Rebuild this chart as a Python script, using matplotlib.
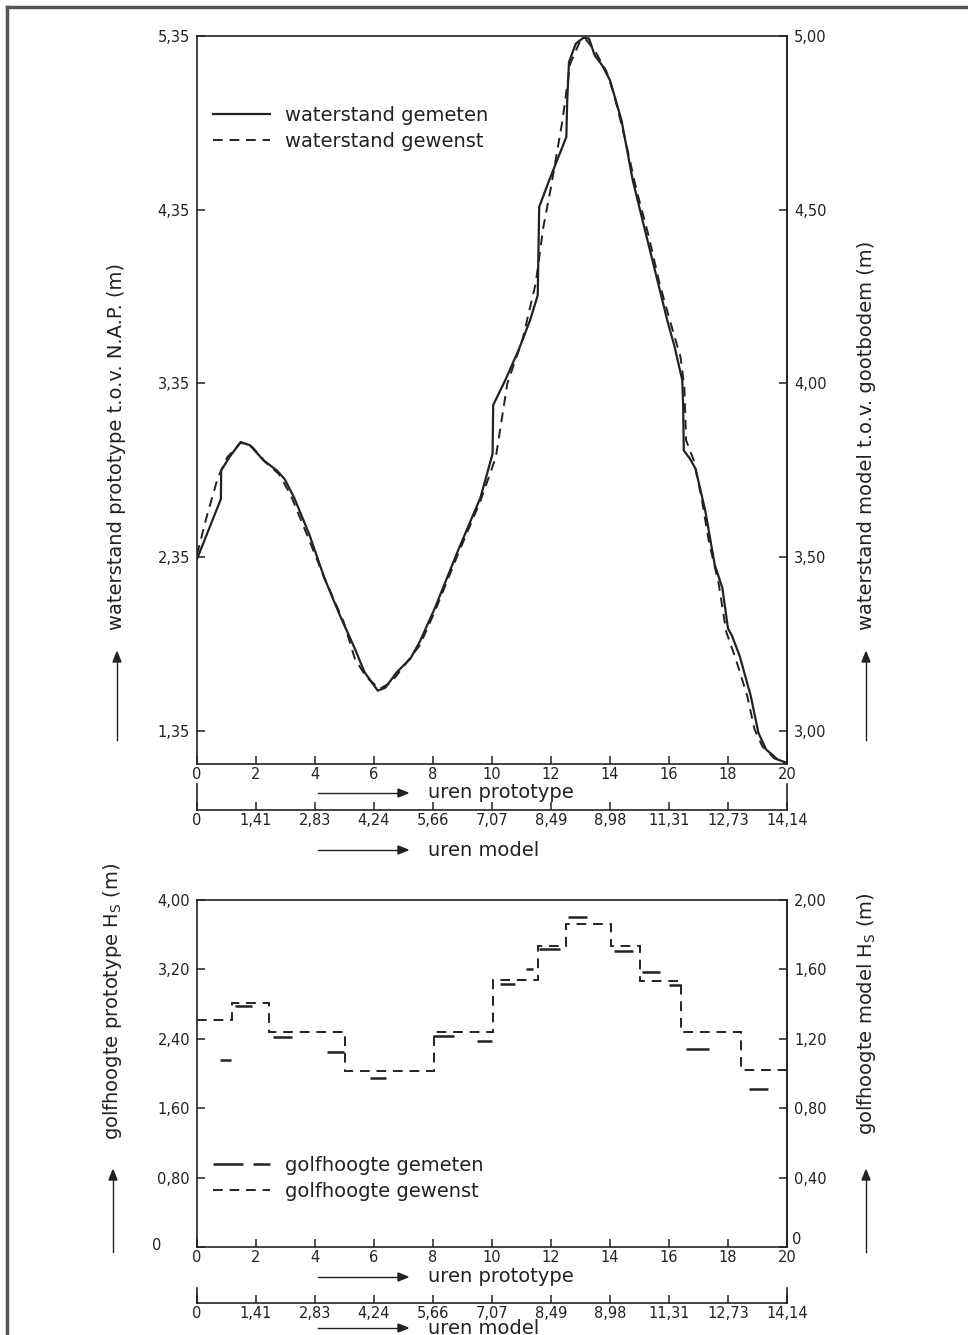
import matplotlib
matplotlib.use("Agg")
import matplotlib.pyplot as plt
from matplotlib.lines import Line2D

# waterstand (prototype, m t.o.v. N.A.P.) tegen uren prototype
gemeten_uur = [0, 0.81, 0.82, 1.1, 1.48, 1.8, 2.26, 2.71, 2.97, 3.29, 3.81, 4.32, 4.84,
               5.35, 5.68, 6.13, 6.39, 6.77, 7.23, 7.55, 8.06, 8.84, 9.61, 10.02, 10.04,
               10.45, 10.9, 11.29, 11.55, 11.6, 11.94, 12.52, 12.55, 12.61, 12.84, 13.1,
               13.29, 13.48, 13.74, 14.0, 14.39, 14.77, 15.16, 15.55, 15.94, 16.19, 16.45,
               16.48, 16.5, 16.71, 16.9, 17.23, 17.55, 17.81, 18.0, 18.13, 18.39, 18.77,
               19.03, 19.29, 19.68, 20.0]
gemeten_stand = [2.34, 2.685, 2.85, 2.926, 3.013, 2.994, 2.907, 2.849, 2.80, 2.694, 2.48,
                 2.23, 2.017, 1.824, 1.688, 1.582, 1.60, 1.688, 1.766, 1.863, 2.056, 2.385,
                 2.694, 2.946, 3.226, 3.369, 3.542, 3.714, 3.858, 4.366, 4.52, 4.769, 4.98,
                 5.20, 5.306, 5.34, 5.335, 5.239, 5.18, 5.095, 4.865, 4.52, 4.25, 3.983,
                 3.714, 3.561, 3.369, 3.22, 2.965, 2.917, 2.859, 2.617, 2.307, 2.172, 1.94,
                 1.90, 1.785, 1.553, 1.34, 1.244, 1.186, 1.166]

gewenst_uur = [0, 0.32, 0.71, 1.03, 1.48, 1.87, 2.32, 2.77, 3.16, 3.68, 4.32, 4.97, 5.35,
               5.74, 6.19, 6.58, 7.03, 7.55, 8.06, 8.84, 9.61, 10.13, 10.52, 11.03, 11.48,
               11.74, 12.0, 12.39, 12.65, 12.97, 13.16, 13.48, 13.87, 14.13, 14.52, 14.9,
               15.29, 15.68, 16.06, 16.39, 16.52, 16.58, 16.84, 17.1, 17.35, 17.68, 17.94,
               18.26, 18.65, 18.9, 19.16, 19.55, 20.0]
gewenst_stand = [2.365, 2.578, 2.81, 2.926, 3.01, 2.985, 2.897, 2.83, 2.714, 2.50, 2.23,
                 1.979, 1.766, 1.66, 1.592, 1.63, 1.727, 1.843, 2.037, 2.365, 2.675, 2.926,
                 3.35, 3.6, 3.925, 4.25, 4.48, 4.865, 5.19, 5.315, 5.335, 5.267, 5.15,
                 5.018, 4.75, 4.462, 4.213, 3.925, 3.695, 3.503, 3.33, 3.023, 2.907, 2.694,
                 2.443, 2.201, 1.921, 1.766, 1.553, 1.36, 1.263, 1.195, 1.157]

# golfhoogte Hs (prototype, m)
gewenst_grenzen = [0, 1.2, 2.45, 5.0, 8.05, 10.05, 11.55, 12.5, 14.05, 15.0, 16.4, 18.45, 20]
gewenst_hs = [2.62, 2.81, 2.475, 2.034, 2.483, 3.08, 3.47, 3.72, 3.47, 3.07, 2.475, 2.04]

gemeten_begin = [0.77, 1.29, 2.58, 4.39, 5.85, 8.0, 9.48, 10.26, 11.14, 11.6, 12.58, 14.13,
                 15.1, 16.0, 16.58, 18.71]
gemeten_eind = [1.16, 1.87, 3.23, 4.97, 6.39, 8.71, 10.0, 10.77, 11.39, 12.32, 13.23, 14.77,
                15.68, 16.39, 17.35, 19.35]
gemeten_hs = [2.157, 2.78, 2.42, 2.245, 1.95, 2.43, 2.38, 3.03, 3.21, 3.43, 3.805, 3.41,
              3.165, 3.02, 2.28, 1.82]

uren_proto = [0, 2, 4, 6, 8, 10, 12, 14, 16, 18, 20]
uren_proto_labels = ["0", "2", "4", "6", "8", "10", "12", "14", "16", "18", "20"]
uren_model_labels = ["0", "1,41", "2,83", "4,24", "5,66", "7,07", "8,49", "8,98", "11,31",
                     "12,73", "14,14"]

stand_ticks = [1.35, 2.35, 3.35, 4.35, 5.35]
stand_labels = ["1,35", "2,35", "3,35", "4,35", "5,35"]
model_stand_ticks = [3.0, 3.5, 4.0, 4.5, 5.0]
model_stand_labels = ["3,00", "3,50", "4,00", "4,50", "5,00"]
hs_ticks = [0, 0.8, 1.6, 2.4, 3.2, 4.0]
hs_labels = ["", "0,80", "1,60", "2,40", "3,20", "4,00"]
model_hs_ticks = [0, 0.4, 0.8, 1.2, 1.6, 2.0]
model_hs_labels = ["", "0,40", "0,80", "1,20", "1,60", "2,00"]

W, H = 968, 1335
INK = "#222222"
TXT = 14  # grootte van de belettering
plt.rcParams["font.family"] = ["DejaVu Sans"]
plt.rcParams["text.color"] = INK
plt.rcParams["axes.edgecolor"] = INK
plt.rcParams["xtick.color"] = INK
plt.rcParams["ytick.color"] = INK

fig = plt.figure(figsize=(W / 100, H / 100), dpi=100)


def box(x0, y0, x1, y1):
    # pixelcoordinaten (oorsprong linksboven) naar figuurfracties
    return [x0 / W, 1 - y1 / H, (x1 - x0) / W, (y1 - y0) / H]


def fy(y):
    return 1 - y / H


def style_axes(ax):
    for s in ax.spines.values():
        s.set_linewidth(1.2)
    ax.tick_params(direction="in", length=6, width=1.1, labelsize=10.5)


def tijdas(y0, y1):
    # tweede tijdas (uren model) als beugel onder de grafiek
    t = fig.add_axes(box(197, y0, 787, y1))
    t.set_xlim(0, 20)
    t.set_yticks([])
    t.spines["top"].set_visible(False)
    for s in t.spines.values():
        s.set_linewidth(1.2)
    t.patch.set_alpha(0)
    t.set_xticks(uren_proto)
    t.set_xticklabels(uren_model_labels)
    t.tick_params(axis="x", direction="in", length=6, width=1.1, labelsize=10.5, pad=2)
    return t


def pijltekst(y, tekst):
    fig.add_artist(Line2D([318 / W, 400 / W], [fy(y), fy(y)], color=INK, lw=1.0))
    fig.patches.append(plt.Polygon([[398 / W, fy(y - 4)], [408 / W, fy(y)], [398 / W, fy(y + 4)]],
                                   closed=True, color=INK, transform=fig.transFigure, figure=fig))
    fig.text(428 / W, fy(y), tekst, fontsize=TXT, va="center", ha="left")


def pijl_omhoog(x, y_van, y_tot):
    fig.add_artist(Line2D([x / W, x / W], [fy(y_van), fy(y_tot + 6)], color=INK, lw=1.0))
    fig.patches.append(plt.Polygon([[(x - 4) / W, fy(y_tot + 10)], [x / W, fy(y_tot)],
                                    [(x + 4) / W, fy(y_tot + 10)]],
                                   closed=True, color=INK, transform=fig.transFigure, figure=fig))


# ---- bovenste grafiek: waterstand ----
ax1 = fig.add_axes(box(197, 36, 787, 764))
ax1.plot(gemeten_uur, gemeten_stand, color=INK, lw=1.6, label="waterstand gemeten")
ax1.plot(gewenst_uur, gewenst_stand, color=INK, lw=1.4, dashes=(5, 3.5), label="waterstand gewenst")
ax1.set_xlim(0, 20)
ax1.set_ylim(1.16, 5.35)
ax1.set_xticks(uren_proto)
ax1.set_xticklabels(uren_proto_labels)
ax1.set_yticks(stand_ticks)
ax1.set_yticklabels(stand_labels)
style_axes(ax1)
ax1.tick_params(axis="x", pad=2)
ax1.tick_params(axis="y", pad=5)

r1 = ax1.secondary_yaxis("right", functions=(lambda v: 5.0 - (5.35 - v) / 2,
                                               lambda m: 5.35 - (5.0 - m) * 2))
r1.set_yticks(model_stand_ticks)
r1.set_yticklabels(model_stand_labels)
r1.spines["right"].set_linewidth(1.2)
r1.tick_params(direction="in", length=6, width=1.1, labelsize=10.5, pad=5)

ax1.legend(loc="upper left", bbox_to_anchor=(0.027, 0.904), frameon=False, fontsize=TXT,
           handlelength=2.95, handletextpad=0.75, labelspacing=0.35, borderpad=0, borderaxespad=0)

tijdas(784, 810)
pijltekst(793, "uren prototype")
pijltekst(850, "uren model")

fig.text(117 / W, fy(630), "waterstand prototype t.o.v. N.A.P. (m)", rotation=90,
         fontsize=TXT, ha="center", va="bottom")
fig.text(866 / W, fy(630), "waterstand model t.o.v. gootbodem (m)", rotation=90,
         fontsize=TXT, ha="center", va="bottom")
pijl_omhoog(117, 740, 652)
pijl_omhoog(866, 740, 652)

# ---- onderste grafiek: golfhoogte ----
ax2 = fig.add_axes(box(197, 900, 787, 1247))
ax2.stairs(gewenst_hs, gewenst_grenzen, baseline=None, color=INK, lw=1.4,
           linestyle=(0, (5, 3.5)), label="golfhoogte gewenst")
ax2.hlines(gemeten_hs, gemeten_begin, gemeten_eind, color=INK, lw=1.8)
ax2.set_xlim(0, 20)
ax2.set_ylim(0, 4.0)
ax2.set_xticks(uren_proto)
ax2.set_xticklabels(uren_proto_labels)
ax2.set_yticks(hs_ticks)
ax2.set_yticklabels(hs_labels)
style_axes(ax2)
ax2.tick_params(axis="x", pad=2)
ax2.tick_params(axis="y", pad=5)

r2 = ax2.secondary_yaxis("right", functions=(lambda v: v / 2, lambda m: m * 2))
r2.set_yticks(model_hs_ticks)
r2.set_yticklabels(model_hs_labels)
r2.spines["right"].set_linewidth(1.2)
r2.tick_params(direction="in", length=6, width=1.1, labelsize=10.5, pad=5)

fig.text(157 / W, fy(1245), "0", fontsize=10.5, ha="center", va="center")
fig.text(792 / W, fy(1240), "0", fontsize=10.5, ha="left", va="center")

leg_handles = [Line2D([], [], color=INK, lw=1.8, dashes=(12, 4)),
               Line2D([], [], color=INK, lw=1.4, dashes=(5, 3.5))]
ax2.legend(leg_handles, ["golfhoogte gemeten", "golfhoogte gewenst"], loc="upper left",
           bbox_to_anchor=(0.027, 0.262), frameon=False, fontsize=TXT,
           handlelength=2.95, handletextpad=0.75, labelspacing=0.35, borderpad=0, borderaxespad=0)

tijdas(1288, 1303)
pijltekst(1277, "uren prototype")
pijltekst(1328, "uren model")

fig.text(113 / W, fy(1140), "golfhoogte prototype H$_\\mathrm{S}$ (m)", rotation=90,
         fontsize=TXT, ha="center", va="bottom")
fig.text(866 / W, fy(1135), "golfhoogte model H$_\\mathrm{S}$ (m)", rotation=90,
         fontsize=TXT, ha="center", va="bottom")
pijl_omhoog(113, 1252, 1170)
pijl_omhoog(866, 1252, 1170)

# rand van de gescande pagina
fig.add_artist(Line2D([7 / W, 7 / W], [0, fy(7)], color="#555555", lw=2.5))
fig.add_artist(Line2D([7 / W, 1], [fy(7), fy(7)], color="#555555", lw=2.5))

fig.savefig("out.png", dpi=100)
